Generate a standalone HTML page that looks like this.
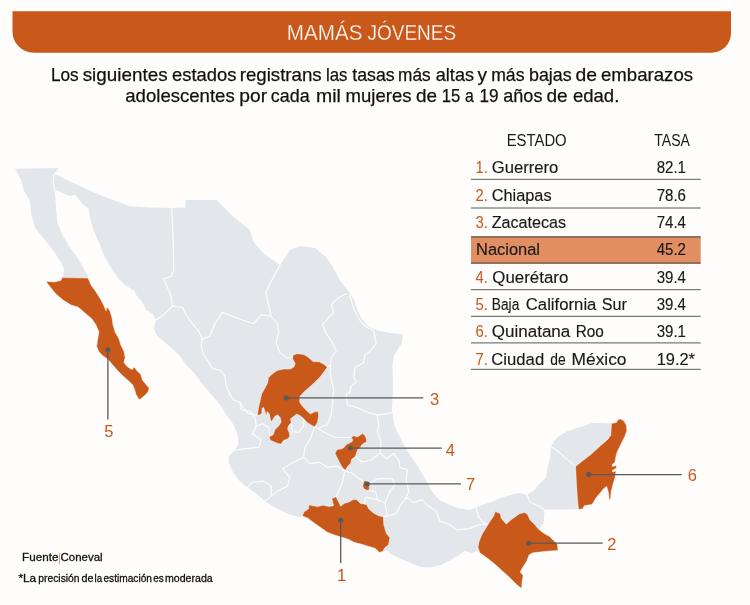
<!DOCTYPE html>
<html lang="es"><head><meta charset="utf-8"><title>Mamás jóvenes</title>
<style>html,body{margin:0;padding:0;background:#FEFDFB;}svg{display:block;font-family:'Liberation Sans', sans-serif;will-change:transform;}</style></head><body>
<svg width="750" height="605" viewBox="0 0 750 605">
<rect width="750" height="605" fill="#FEFDFB"/>
<path d="M12.5,11.3 H731 V33.2 A19.5,19.5 0 0 1 711.5,52.7 H33.5 A21,21 0 0 1 12.5,31.7 Z" fill="#C9581B"/>
<text y="39.9" font-size="21.8" fill="#FFFFFF" stroke="#C9581B" stroke-width="0.3"><tspan x="286.8" textLength="75.6" lengthAdjust="spacingAndGlyphs">MAMÁS</tspan> <tspan x="367.5" textLength="88.6" lengthAdjust="spacingAndGlyphs">JÓVENES</tspan></text>
<text y="81.0" font-size="19.0" fill="#111111" stroke="#111111" stroke-width="0.25"><tspan x="50.9" textLength="27.8" lengthAdjust="spacingAndGlyphs">Los</tspan> <tspan x="82.7" textLength="84.9" lengthAdjust="spacingAndGlyphs">siguientes</tspan> <tspan x="172.0" textLength="64.4" lengthAdjust="spacingAndGlyphs">estados</tspan> <tspan x="239.7" textLength="82.0" lengthAdjust="spacingAndGlyphs">registrans</tspan> <tspan x="326.0" textLength="21.5" lengthAdjust="spacingAndGlyphs">las</tspan> <tspan x="352.3" textLength="42.4" lengthAdjust="spacingAndGlyphs">tasas</tspan> <tspan x="398.1" textLength="32.6" lengthAdjust="spacingAndGlyphs">más</tspan> <tspan x="435.8" textLength="38.2" lengthAdjust="spacingAndGlyphs">altas</tspan> <tspan x="477.6" textLength="9.5" lengthAdjust="spacingAndGlyphs">y</tspan> <tspan x="491.2" textLength="33.3" lengthAdjust="spacingAndGlyphs">más</tspan> <tspan x="529.0" textLength="42.7" lengthAdjust="spacingAndGlyphs">bajas</tspan> <tspan x="575.5" textLength="21.5" lengthAdjust="spacingAndGlyphs">de</tspan> <tspan x="601.0" textLength="92.1" lengthAdjust="spacingAndGlyphs">embarazos</tspan></text>
<text y="101.5" font-size="19.0" fill="#111111" stroke="#111111" stroke-width="0.25"><tspan x="125.3" textLength="109.4" lengthAdjust="spacingAndGlyphs">adolescentes</tspan> <tspan x="239.3" textLength="27.8" lengthAdjust="spacingAndGlyphs">por</tspan> <tspan x="270.8" textLength="38.8" lengthAdjust="spacingAndGlyphs">cada</tspan> <tspan x="316.0" textLength="24.8" lengthAdjust="spacingAndGlyphs">mil</tspan> <tspan x="345.6" textLength="65.9" lengthAdjust="spacingAndGlyphs">mujeres</tspan> <tspan x="416.0" textLength="21.1" lengthAdjust="spacingAndGlyphs">de</tspan> <tspan x="441.8" textLength="18.6" lengthAdjust="spacingAndGlyphs">15</tspan> <tspan x="465.1" textLength="8.8" lengthAdjust="spacingAndGlyphs">a</tspan> <tspan x="479.4" textLength="19.1" lengthAdjust="spacingAndGlyphs">19</tspan> <tspan x="503.3" textLength="39.1" lengthAdjust="spacingAndGlyphs">años</tspan> <tspan x="546.5" textLength="21.2" lengthAdjust="spacingAndGlyphs">de</tspan> <tspan x="572.9" textLength="46.4" lengthAdjust="spacingAndGlyphs">edad.</tspan></text>
<g fill="#E3E6EA" stroke="none">
<polygon points="15.0,168.7 59.4,168.0 54.5,175.0 54.0,182.5 54.4,188.7 55.4,197.4 56.2,209.9 57.4,222.4 62.4,234.9 69.9,247.4 76.2,256.1 82.4,266.1 87.4,274.9 88.3,277.8 62.7,277.8 64.4,269.9 61.2,262.4 53.7,251.1 44.9,239.9 35.0,227.4 31.2,213.7 30.0,201.2 23.7,190.0 21.2,180.0"/>
<polygon points="53.5,176.0 55.5,174.3 74.9,183.7 99.9,195.0 129.8,206.2 149.8,207.4 172.3,208.0 185.5,207.6 185.5,200.0 216.7,200.0 233.3,216.7 250.0,230.0 253.3,241.7 263.3,253.3 280.0,265.0 290.0,250.0 300.0,246.0 315.0,248.0 326.0,257.0 333.0,267.0 339.0,279.0 347.0,289.5 354.0,299.5 357.2,309.5 362.0,319.5 369.0,327.0 380.0,331.0 390.0,333.0 402.8,334.0 401.8,343.0 398.0,349.0 394.0,355.5 392.4,364.9 392.9,377.4 392.9,389.9 392.4,399.9 391.9,409.9 393.2,417.3 394.7,426.7 398.7,434.7 402.7,442.7 407.3,450.7 412.7,458.7 418.0,466.7 422.7,474.7 426.7,481.3 430.7,489.3 435.3,496.0 440.5,500.5 449.9,504.9 459.8,508.6 469.8,509.9 479.8,506.1 489.8,502.4 502.3,497.4 514.8,493.7 520.0,493.3 526.7,495.0 533.3,491.0 536.0,488.0 540.0,482.9 546.1,477.7 546.9,470.7 548.7,463.8 550.4,455.1 551.3,446.4 553.9,441.2 559.1,436.0 566.0,431.7 576.4,428.2 586.9,424.8 592.1,423.0 600.7,423.0 611.5,423.5 610.8,435.2 600.7,445.6 586.7,460.0 575.6,466.4 576.4,482.9 578.5,509.3 544.5,509.8 543.7,522.6 538.6,529.3 530.0,535.0 510.0,535.0 490.0,535.0 482.0,540.0 479.8,552.0 479.0,549.5 477.0,551.0 471.0,553.0 465.0,551.0 459.0,555.0 451.0,560.0 441.0,565.0 430.0,567.6 421.0,567.0 413.0,564.0 401.0,559.0 391.0,554.0 387.0,550.0 381.7,553.0 375.1,548.3 361.1,544.1 348.4,539.2 334.4,535.0 320.3,527.3 313.3,522.3 302.3,516.0 299.9,517.4 287.4,513.6 274.9,507.4 264.9,501.1 256.2,493.6 247.5,487.4 238.7,479.9 232.5,471.2 228.7,462.4 228.7,456.2 235.0,449.9 238.7,443.7 237.5,435.0 233.7,425.0 228.7,417.5 226.1,414.8 221.1,406.1 214.9,398.6 207.4,389.9 199.9,381.1 193.7,372.4 186.2,364.9 179.9,356.1 172.5,348.7 165.0,342.4 157.5,336.2 153.7,328.7 156.2,320.0 152.5,313.7 146.2,310.0 142.5,302.5 136.2,295.0 134.5,290.5 132.3,289.8 124.8,284.8 117.4,277.4 111.1,267.4 104.9,257.4 99.9,244.9 93.6,229.9 89.9,217.4 88.6,208.7 82.4,203.7 74.9,194.5 69.9,196.2 62.4,192.5 55.4,190.0 53.5,183.0"/>
</g>
<g fill="none" stroke="#FCFCFB" stroke-width="1.2" stroke-linejoin="round" stroke-linecap="round">
<polyline points="59.4,168.0 54.0,175.0 53.2,182.5 54.6,189.5"/>
<polyline points="171.7,208.3 173.3,243.3 173.7,270.0 171.2,276.2 163.7,278.7 167.5,287.5 171.2,296.2 172.5,306.2"/>
<polyline points="172.5,306.2 165.0,313.7 156.2,320.0"/>
<polyline points="172.5,306.2 182.4,307.5 186.2,315.0 192.4,323.7 198.7,331.2 202.4,338.7 201.2,346.2 203.7,354.9 208.7,362.4 212.4,368.6 219.9,369.9 224.9,376.1 226.1,386.1 229.9,394.9 233.6,399.8 239.9,402.3 244.9,409.8 248.6,413.6 254.8,414.8 257.5,415.3"/>
<polyline points="201.7,339.5 209.9,336.2 214.9,323.7 222.4,312.4 234.9,317.4 253.6,323.7 261.1,314.9 271.1,316.2"/>
<polyline points="280.0,265.0 269.8,283.7 266.1,292.5 268.6,305.0 271.1,316.2"/>
<polyline points="271.1,316.2 277.3,323.7 278.6,332.4 276.1,342.4 279.8,352.4 287.3,358.6 292.6,356.5"/>
<polyline points="346.2,293.7 338.7,297.5 331.2,305.0 333.7,312.5 327.5,318.7 322.5,325.0 326.2,333.7 332.4,342.4 336.2,351.2 331.2,357.4 330.0,372.4 333.7,389.9 332.4,402.4 331.2,414.8 327.5,424.8 318.5,428.5"/>
<polyline points="327.3,367.1 330.5,365.0"/>
<polyline points="349.9,295.0 352.4,305.0 356.2,313.7 361.2,322.5 367.4,327.5 373.6,330.0 376.1,343.7 369.9,351.2 364.9,354.9 363.7,362.4 354.9,367.4 353.7,377.4 356.2,382.4 351.2,386.1 349.9,392.4 346.2,393.6 347.4,404.9 356.2,407.4 367.4,412.3 377.4,414.8 388.6,413.6 392.4,412.3"/>
<polyline points="377.4,414.8 378.6,424.8 377.5,432.5 381.2,442.5 380.0,452.5 386.2,458.7 393.7,453.7 398.7,460.0 399.9,467.4 407.4,469.9 406.2,479.9 408.7,491.2 406.2,497.4 413.7,502.4 422.4,499.9 428.6,506.1 436.1,511.1 439.9,521.1 449.9,524.9 457.4,529.9 469.8,528.6 478.6,524.9 487.3,523.6"/>
<polyline points="406.2,497.4 399.9,506.1 396.2,513.6 387.4,516.1 383.3,516.7"/>
<polyline points="476.1,507.4 478.6,517.4 486.1,524.9"/>
<polyline points="527.0,494.8 530.0,502.0 541.0,507.0 544.5,510.0"/>
<polyline points="551.3,446.4 557.4,450.8 566.0,458.6 575.6,466.4"/>
<polyline points="240.0,402.3 241.2,410.0 250.0,411.2 255.0,417.5 256.2,426.2 252.5,433.7 261.2,439.9 258.7,447.4 245.0,448.7 235.0,450.5"/>
<polyline points="291.2,423.0 292.4,431.2 298.6,432.5 303.6,426.2 304.0,419.0"/>
<polyline points="256.2,426.2 262.5,423.7 268.7,427.5 270.0,437.0 280.9,444.2 287.0,439.5 292.4,431.2"/>
<polyline points="314.6,426.8 311.1,437.5 304.9,447.4 303.6,457.4 293.6,462.4 282.4,468.7 289.9,477.4 287.4,486.1 277.4,491.1 271.2,496.1 264.9,501.1"/>
<polyline points="247.5,487.4 252.5,482.4 263.7,481.2 271.2,486.1 271.2,496.1"/>
<polyline points="314.6,426.8 324.9,432.5 334.8,437.5 351.5,437.5"/>
<polyline points="303.6,457.4 309.9,463.7 319.9,462.4 327.4,467.4 337.4,466.2 344.8,471.2"/>
<polyline points="344.8,471.2 342.3,482.4 338.6,491.1 334.8,499.9"/>
<polyline points="355.4,456.5 362.0,462.0 371.0,460.0 380.0,453.0"/>
<polyline points="344.8,471.2 352.0,473.0 358.0,478.0 363.0,481.0"/>
<polyline points="369.0,484.0 377.5,478.7 392.4,478.7 395.0,485.0 390.0,491.2"/>
<polyline points="369.4,489.8 376.0,492.5 377.5,499.9 385.0,502.5 390.0,491.2"/>
<polyline points="363.9,504.1 366.0,497.0 377.5,499.9"/>
<polyline points="385.0,502.5 387.4,516.1"/>
</g>
<g fill="#C9581B" stroke="#FCFCFB" stroke-width="0.6" stroke-opacity="0.75" stroke-linejoin="round">
<polygon points="46.0,281.4 54.0,282.0 61.0,280.4 62.0,277.6 88.0,278.0 91.0,285.0 96.0,292.0 101.0,300.0 104.0,306.0 106.0,311.0 107.0,307.0 110.0,311.0 112.0,318.0 113.0,325.0 115.0,332.0 119.0,339.0 120.7,344.8 123.9,351.2 125.1,357.6 123.9,362.5 127.1,366.5 132.0,369.7 134.4,367.0 136.8,370.5 140.8,374.5 142.4,380.1 146.4,384.9 149.1,388.1 148.0,392.1 144.0,396.2 139.2,399.7 136.0,394.5 134.7,389.7 132.8,384.9 128.7,380.9 123.1,376.1 118.3,371.3 112.7,364.9 107.9,359.3 103.1,356.0 99.1,352.0 96.7,346.4 97.5,340.0 99.0,332.0 96.0,325.0 92.0,319.0 85.0,313.0 78.0,307.0 71.0,305.0 63.0,300.0 56.0,294.0 51.0,288.0"/>
<polygon points="293.2,355.0 297.2,353.7 303.9,354.6 307.9,357.0 313.3,361.7 319.3,361.7 324.0,364.4 327.3,367.1 324.0,371.8 320.0,377.1 314.6,382.5 309.3,387.2 303.9,391.9 299.9,396.5 299.6,402.0 301.9,405.4 305.9,410.1 310.6,414.1 313.9,412.1 318.0,411.2 318.6,416.1 317.3,422.8 314.6,426.8 310.6,424.8 306.6,422.1 303.9,418.8 299.9,415.4 296.5,414.1 293.2,416.8 290.5,418.8 291.2,422.8 288.5,425.5 287.6,428.8 289.2,432.8 289.8,436.2 287.8,438.9 283.8,440.2 280.9,444.2 276.5,442.9 270.4,440.2 269.1,436.9 273.1,434.8 275.1,429.5 279.1,425.5 281.1,422.1 280.5,418.1 277.8,414.8 275.1,416.1 271.1,422.1 269.1,413.4 267.1,411.4 266.4,416.1 263.7,407.4 262.1,408.1 261.7,414.1 257.3,415.4 258.4,408.7 260.4,399.4 261.7,394.0 265.1,387.8 267.8,382.5 268.4,377.8 271.8,374.5 277.1,370.4 283.8,369.1 290.5,369.1 293.9,367.1 295.2,363.7 292.5,358.4"/>
<polygon points="362.4,433.6 364.6,435.0 366.2,438.2 366.7,442.0 364.0,443.0 361.4,445.2 360.3,447.9 357.6,449.5 356.5,452.7 355.4,456.5 351.7,459.1 350.6,463.4 347.9,466.1 345.2,470.1 343.1,468.3 340.9,465.1 338.8,460.8 336.6,456.5 335.0,453.2 337.2,449.5 341.5,448.9 344.2,447.3 346.3,444.6 349.5,443.0 352.2,441.4 352.8,439.3 351.1,437.7 353.8,435.7 357.1,437.1 359.7,435.5"/>
<polygon points="364.6,480.3 367.3,481.7 368.9,483.9 369.4,489.8 366.7,490.3 364.0,488.7 362.7,486.0 363.5,482.8"/>
<polygon points="302.3,516.0 304.1,511.8 308.4,509.0 309.1,504.8 312.6,505.7 317.5,506.6 323.1,505.2 328.7,506.6 333.7,505.7 331.8,498.7 336.0,496.7 340.7,506.2 344.2,503.4 349.1,501.9 353.3,499.6 356.8,499.8 360.4,503.4 363.9,504.1 366.7,504.8 368.8,509.0 373.7,513.2 379.3,516.0 383.3,516.7 383.8,525.1 386.4,533.6 389.9,537.8 388.5,544.8 385.0,547.6 382.9,551.1 379.6,552.6 375.1,548.3 368.1,546.2 361.1,544.1 354.0,542.3 348.4,539.2 341.4,537.1 334.4,535.0 327.3,532.2 320.3,527.3 313.3,522.3 307.7,518.1"/>
<polygon points="495.2,511.6 500.4,513.8 501.1,518.2 506.2,524.1 512.1,519.0 519.5,513.8 524.6,512.4 527.6,514.6 529.8,519.7 534.2,524.1 538.6,529.3 544.5,533.7 549.6,536.6 553.3,540.3 557.4,544.0 558.0,550.6 550.4,550.9 541.5,551.8 532.7,552.8 529.0,555.0 526.8,560.9 523.1,566.8 520.2,571.9 523.1,575.6 522.1,581.5 521.7,588.5 516.5,584.4 509.2,577.1 501.8,570.4 494.5,563.8 487.1,557.9 479.8,552.8 478.0,547.6 479.0,541.8 482.0,534.4 485.6,528.5 490.1,521.2 493.7,516.0"/>
<polygon points="611.5,423.5 616.4,422.5 618.1,419.5 620.7,419.0 624.2,421.3 626.4,425.6 626.8,430.8 625.0,436.0 622.4,441.2 619.8,446.4 617.2,451.7 615.8,456.9 615.0,462.1 612.0,464.7 612.5,466.4 616.4,465.5 616.4,468.1 612.0,470.7 612.9,472.1 616.0,471.1 615.0,477.7 612.9,484.6 611.2,491.6 610.3,499.4 609.1,499.4 608.6,493.3 606.8,486.4 604.2,488.1 599.9,493.3 595.5,498.5 592.1,504.6 587.7,505.1 584.3,505.8 582.5,508.9 578.5,509.3 577.3,496.8 576.4,482.9 575.6,466.4 583.4,460.3 592.1,453.4 600.7,445.6 607.7,439.5 610.8,435.2"/>
</g>
<line x1="340.7" y1="520.2" x2="340.7" y2="563.1" stroke="#58595B" stroke-width="1.3"/>
<circle cx="340.7" cy="520.2" r="2.5" fill="#58595B"/>
<text x="337.0" y="581.0" font-size="16.5" fill="#C9581B">1</text>
<line x1="528.7" y1="543.2" x2="602.7" y2="543.2" stroke="#58595B" stroke-width="1.3"/>
<circle cx="528.7" cy="543.2" r="2.5" fill="#58595B"/>
<text x="607.3" y="550.0" font-size="16.5" fill="#C9581B">2</text>
<line x1="286.1" y1="397.9" x2="423.3" y2="397.9" stroke="#58595B" stroke-width="1.3"/>
<circle cx="286.1" cy="397.9" r="2.5" fill="#58595B"/>
<text x="430.0" y="405.0" font-size="16.5" fill="#C9581B">3</text>
<line x1="350.4" y1="448.1" x2="441.7" y2="448.1" stroke="#58595B" stroke-width="1.3"/>
<circle cx="350.4" cy="448.1" r="2.5" fill="#58595B"/>
<text x="445.7" y="456.0" font-size="16.5" fill="#C9581B">4</text>
<line x1="107.9" y1="350" x2="107.9" y2="419.4" stroke="#58595B" stroke-width="1.3"/>
<circle cx="107.9" cy="350" r="2.5" fill="#58595B"/>
<text x="104.2" y="437.3" font-size="16.5" fill="#C9581B">5</text>
<line x1="588.6" y1="474.6" x2="681.7" y2="474.6" stroke="#58595B" stroke-width="1.3"/>
<circle cx="588.6" cy="474.6" r="2.5" fill="#58595B"/>
<text x="687.7" y="481.0" font-size="16.5" fill="#C9581B">6</text>
<line x1="367.3" y1="483.9" x2="461" y2="483.9" stroke="#58595B" stroke-width="1.3"/>
<circle cx="367.3" cy="483.9" r="2.5" fill="#58595B"/>
<text x="466.0" y="490.0" font-size="16.5" fill="#C9581B">7</text>
<text x="506.7" y="145.7" font-size="16.3" fill="#1A1A1A" textLength="60.0" lengthAdjust="spacingAndGlyphs">ESTADO</text>
<text x="654.3" y="145.7" font-size="16.3" fill="#1A1A1A" textLength="35.7" lengthAdjust="spacingAndGlyphs">TASA</text>
<rect x="471" y="236.9" width="229.7" height="26.2" fill="#E18E62"/>
<line x1="471" y1="179.3" x2="700.7" y2="179.3" stroke="#58595B" stroke-width="1"/>
<line x1="471" y1="208" x2="700.7" y2="208" stroke="#58595B" stroke-width="1"/>
<line x1="471" y1="289.7" x2="700.7" y2="289.7" stroke="#58595B" stroke-width="1"/>
<line x1="471" y1="316.3" x2="700.7" y2="316.3" stroke="#58595B" stroke-width="1"/>
<line x1="471" y1="342.9" x2="700.7" y2="342.9" stroke="#58595B" stroke-width="1"/>
<line x1="471" y1="369.3" x2="700.7" y2="369.3" stroke="#58595B" stroke-width="1"/>
<line x1="471" y1="236.9" x2="700.7" y2="236.9" stroke="#5F4A3F" stroke-width="1.1"/>
<line x1="471" y1="263.1" x2="700.7" y2="263.1" stroke="#5F4A3F" stroke-width="1.1"/>
<text x="475.6" y="173.3" font-size="16.3" fill="#C9581B" textLength="12.4" lengthAdjust="spacingAndGlyphs">1.</text>
<text x="491.7" y="173.3" font-size="16.3" fill="#1A1A1A" textLength="66.6" lengthAdjust="spacingAndGlyphs" stroke="#1A1A1A" stroke-width="0.15">Guerrero</text>
<text x="656.7" y="173.3" font-size="16.3" fill="#1A1A1A" textLength="29.3" lengthAdjust="spacingAndGlyphs" stroke="#1A1A1A" stroke-width="0.15">82.1</text>
<text x="475.6" y="200.5" font-size="16.3" fill="#C9581B" textLength="12.4" lengthAdjust="spacingAndGlyphs">2.</text>
<text x="491.7" y="200.5" font-size="16.3" fill="#1A1A1A" textLength="59.9" lengthAdjust="spacingAndGlyphs" stroke="#1A1A1A" stroke-width="0.15">Chiapas</text>
<text x="656.7" y="200.5" font-size="16.3" fill="#1A1A1A" textLength="29.3" lengthAdjust="spacingAndGlyphs" stroke="#1A1A1A" stroke-width="0.15">78.6</text>
<text x="475.6" y="227.8" font-size="16.3" fill="#C9581B" textLength="12.4" lengthAdjust="spacingAndGlyphs">3.</text>
<text x="491.7" y="227.8" font-size="16.3" fill="#1A1A1A" textLength="74.5" lengthAdjust="spacingAndGlyphs" stroke="#1A1A1A" stroke-width="0.15">Zacatecas</text>
<text x="656.7" y="227.8" font-size="16.3" fill="#1A1A1A" textLength="29.3" lengthAdjust="spacingAndGlyphs" stroke="#1A1A1A" stroke-width="0.15">74.4</text>
<text x="476.0" y="255.3" font-size="16.3" fill="#1A1A1A" textLength="64.0" lengthAdjust="spacingAndGlyphs" stroke="#1A1A1A" stroke-width="0.15">Nacional</text>
<text x="656.7" y="255.3" font-size="16.3" fill="#1A1A1A" textLength="29.3" lengthAdjust="spacingAndGlyphs" stroke="#1A1A1A" stroke-width="0.15">45.2</text>
<text x="475.6" y="282.7" font-size="16.3" fill="#C9581B" textLength="12.4" lengthAdjust="spacingAndGlyphs">4.</text>
<text x="492.3" y="282.7" font-size="16.3" fill="#1A1A1A" textLength="76.0" lengthAdjust="spacingAndGlyphs" stroke="#1A1A1A" stroke-width="0.15">Querétaro</text>
<text x="656.7" y="282.7" font-size="16.3" fill="#1A1A1A" textLength="29.3" lengthAdjust="spacingAndGlyphs" stroke="#1A1A1A" stroke-width="0.15">39.4</text>
<text x="475.6" y="309.5" font-size="16.3" fill="#C9581B" textLength="12.4" lengthAdjust="spacingAndGlyphs">5.</text>
<text y="309.5" font-size="16.3" fill="#1A1A1A" stroke="#1A1A1A" stroke-width="0.15"><tspan x="491.8" textLength="27.5" lengthAdjust="spacingAndGlyphs">Baja</tspan> <tspan x="525.8" textLength="70.6" lengthAdjust="spacingAndGlyphs">California</tspan> <tspan x="601.8" textLength="25.2" lengthAdjust="spacingAndGlyphs">Sur</tspan></text>
<text x="656.7" y="309.5" font-size="16.3" fill="#1A1A1A" textLength="29.3" lengthAdjust="spacingAndGlyphs" stroke="#1A1A1A" stroke-width="0.15">39.4</text>
<text x="475.6" y="337.3" font-size="16.3" fill="#C9581B" textLength="12.4" lengthAdjust="spacingAndGlyphs">6.</text>
<text y="337.3" font-size="16.3" fill="#1A1A1A" stroke="#1A1A1A" stroke-width="0.15"><tspan x="491.8" textLength="78.5" lengthAdjust="spacingAndGlyphs">Quinatana</tspan> <tspan x="575.7" textLength="28.1" lengthAdjust="spacingAndGlyphs">Roo</tspan></text>
<text x="656.7" y="337.3" font-size="16.3" fill="#1A1A1A" textLength="29.3" lengthAdjust="spacingAndGlyphs" stroke="#1A1A1A" stroke-width="0.15">39.1</text>
<text x="475.6" y="364.6" font-size="16.3" fill="#C9581B" textLength="12.4" lengthAdjust="spacingAndGlyphs">7.</text>
<text y="364.6" font-size="16.3" fill="#1A1A1A" stroke="#1A1A1A" stroke-width="0.15"><tspan x="491.3" textLength="52.9" lengthAdjust="spacingAndGlyphs">Ciudad</tspan> <tspan x="550.3" textLength="15.4" lengthAdjust="spacingAndGlyphs">de</tspan> <tspan x="571.6" textLength="54.9" lengthAdjust="spacingAndGlyphs">México</tspan></text>
<text x="656.7" y="364.6" font-size="16.3" fill="#1A1A1A" textLength="38.3" lengthAdjust="spacingAndGlyphs" stroke="#1A1A1A" stroke-width="0.15">19.2*</text>
<text x="22.1" y="561.0" font-size="11.6" fill="#111111" textLength="36.3" lengthAdjust="spacingAndGlyphs" stroke="#111111" stroke-width="0.3">Fuente</text>
<line x1="59.4" y1="553.2" x2="59.4" y2="564.2" stroke="#C9581B" stroke-width="0.7" stroke-opacity="0.85"/>
<text x="60.6" y="561.0" font-size="11.6" fill="#111111" textLength="42.0" lengthAdjust="spacingAndGlyphs" stroke="#111111" stroke-width="0.3">Coneval</text>
<text y="581.7" font-size="11.2" fill="#111111" stroke="#111111" stroke-width="0.3"><tspan x="18.4" textLength="17.8" lengthAdjust="spacingAndGlyphs">*La</tspan> <tspan x="38.3" textLength="41.3" lengthAdjust="spacingAndGlyphs">precisión</tspan> <tspan x="81.4" textLength="12.0" lengthAdjust="spacingAndGlyphs">de</tspan> <tspan x="94.6" textLength="7.6" lengthAdjust="spacingAndGlyphs">la</tspan> <tspan x="103.4" textLength="48.6" lengthAdjust="spacingAndGlyphs">estimación</tspan> <tspan x="153.3" textLength="10.5" lengthAdjust="spacingAndGlyphs">es</tspan> <tspan x="165.0" textLength="47.7" lengthAdjust="spacingAndGlyphs">moderada</tspan></text>
</svg></body></html>
